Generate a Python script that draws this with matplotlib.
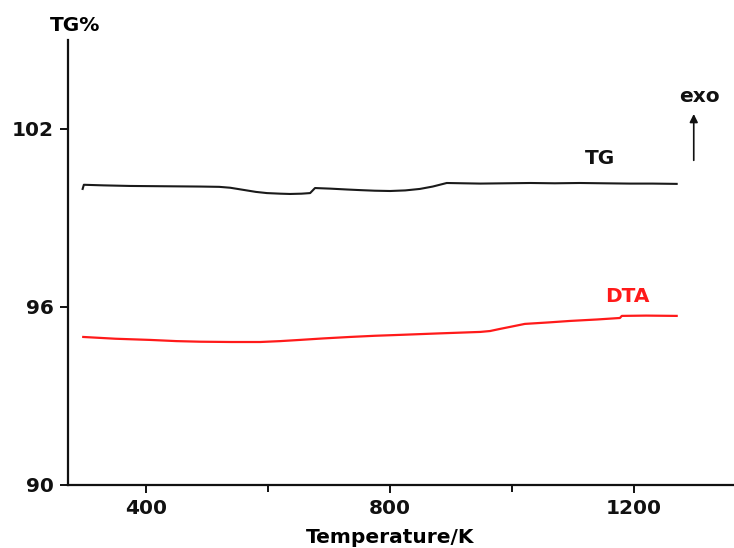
import matplotlib
matplotlib.use("Agg")
import matplotlib.pyplot as plt
import matplotlib.transforms as mtransforms

plt.rcParams['font.family'] = ['DejaVu Sans']
plt.rcParams['font.weight'] = 'bold'

# TG curve (Temperature/K, TG%)
tg_T = [296, 298, 330, 374, 430, 489, 520, 538, 562, 580, 598, 620, 636, 655, 669, 677, 702, 730, 751, 775, 800, 825, 849, 870, 893, 920, 948, 990, 1030, 1070, 1111, 1150, 1193, 1230, 1270]
tg_v = [99.98, 100.12, 100.10, 100.08, 100.07, 100.06, 100.05, 100.02, 99.94, 99.88, 99.84, 99.82, 99.81, 99.82, 99.84, 100.01, 99.99, 99.96, 99.94, 99.92, 99.91, 99.93, 99.98, 100.06, 100.18, 100.17, 100.16, 100.17, 100.18, 100.17, 100.18, 100.17, 100.16, 100.16, 100.15]

# DTA curve (plotted on same scale)
dta_T = [297, 350, 407, 450, 489, 540, 587, 620, 652, 690, 734, 775, 816, 880, 948, 964, 980, 997, 1021, 1060, 1095, 1140, 1177, 1180, 1220, 1270]
dta_v = [94.99, 94.93, 94.89, 94.85, 94.83, 94.82, 94.82, 94.85, 94.89, 94.94, 94.99, 95.03, 95.06, 95.11, 95.16, 95.19, 95.26, 95.33, 95.43, 95.48, 95.53, 95.58, 95.63, 95.70, 95.71, 95.70]

x_major = [400, 800, 1200]
x_minor = [600, 1000]
y_ticks = [90, 96, 102]

fig = plt.figure(figsize=(7.34, 5.48), dpi=100)
ax = fig.add_axes([68/734, 63/548, 1 - 68/734, 445/548])

ax.plot(tg_T, tg_v, color='#1a1a1a', lw=1.5)
ax.plot(dta_T, dta_v, color='#ff1a1a', lw=1.6)

ax.set_xlim(272, 1364)
ax.set_ylim(90, 105)
ax.set_xticks(x_major)
ax.set_xticks(x_minor, minor=True)
ax.set_yticks(y_ticks)

for s in ['top', 'right']:
    ax.spines[s].set_visible(False)
for s in ['left', 'bottom']:
    ax.spines[s].set_linewidth(1.6)
    ax.spines[s].set_color('#111111')

ax.tick_params(axis='both', which='major', direction='out', length=6, width=1.4,
               labelsize=14.5, pad=4, colors='#111111')
ax.tick_params(axis='x', which='minor', direction='out', length=5, width=1.4, colors='#111111')
for lab in ax.get_xticklabels() + ax.get_yticklabels():
    lab.set_fontweight('bold')

trans = mtransforms.blended_transform_factory(ax.transData, ax.transAxes)
ax.text(800, -0.118, 'Temperature/K', transform=trans, ha='center', va='center',
        fontsize=14.5, fontweight='bold', clip_on=False)
ax.text(284, 105.5, 'TG%', ha='center', va='center', fontsize=14.5, fontweight='bold', clip_on=False)

ax.text(1144, 101.02, 'TG', ha='center', va='center', fontsize=14.5, fontweight='bold', color='#111111')
ax.text(1189, 96.37, 'DTA', ha='center', va='center', fontsize=14.5, fontweight='bold', color='#ff1a1a')
ax.text(1308, 103.08, 'exo', ha='center', va='center', fontsize=14.5, fontweight='bold', color='#111111')
ax.annotate('', xy=(1298, 102.6), xytext=(1298, 100.85),
            arrowprops=dict(arrowstyle='-|>', color='#111111', lw=1.2, mutation_scale=12))

fig.savefig('out.png', dpi=100)
